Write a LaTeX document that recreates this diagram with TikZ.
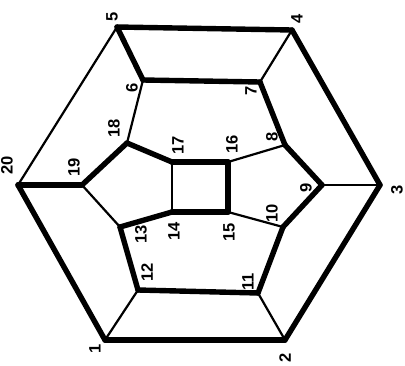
\documentclass[tikz,border=0pt]{standalone}
\usepackage{fontspec}
\setsansfont{Liberation Sans}
\begin{document}
\begin{tikzpicture}[x=1pt, y=-1pt, line cap=round,
    cyc/.style={line width=5.4pt},
    rest/.style={line width=2.2pt},
    lab/.style={font=\sffamily\bfseries\fontsize{16.5}{17}\selectfont, rotate=90, inner sep=0pt}]
  \useasboundingbox (0,0) rectangle (405,365);
  % vertices
  \foreach \n/\x/\y in {1/105/340, 2/285/340, 3/380/185, 4/292/30, 5/117/27,
      6/143/80, 7/260/82, 8/285/145, 9/322/185, 10/283/227,
      11/258/293, 12/138/290, 13/120/227, 14/172/212, 15/228/212,
      16/228/162, 17/172/162, 18/127/143, 19/82/185, 20/18/185}
    \coordinate (v\n) at (\x,\y);
  % labels
  \foreach \n/\x/\y in {1/95/349, 2/285/358, 3/397/190, 4/297/19, 5/112/17,
      6/132/88, 7/251/91, 8/272/137, 9/306/188, 10/272/213,
      11/248/282, 12/147/272, 13/141/234, 14/174/231, 15/229/232,
      16/232/144, 17/178/145, 18/114/128, 19/74/167, 20/7/165}
    \node[lab] (l\n) at (\x,\y) {\n};
  % the cycle 1-2-...-20-1
  \foreach \a/\b in {1/2, 2/3, 3/4, 4/5, 5/6, 6/7, 7/8, 8/9, 9/10, 10/11,
      11/12, 12/13, 13/14, 14/15, 15/16, 16/17, 17/18, 18/19, 19/20, 20/1}
    \draw[cyc] (v\a) -- (v\b);
  % other edges
  \foreach \a/\b in {5/20, 4/7, 3/9, 2/11, 1/12, 6/18, 8/16, 10/15, 13/19, 14/17}
    \draw[rest] (v\a) -- (v\b);
\end{tikzpicture}
\end{document}
